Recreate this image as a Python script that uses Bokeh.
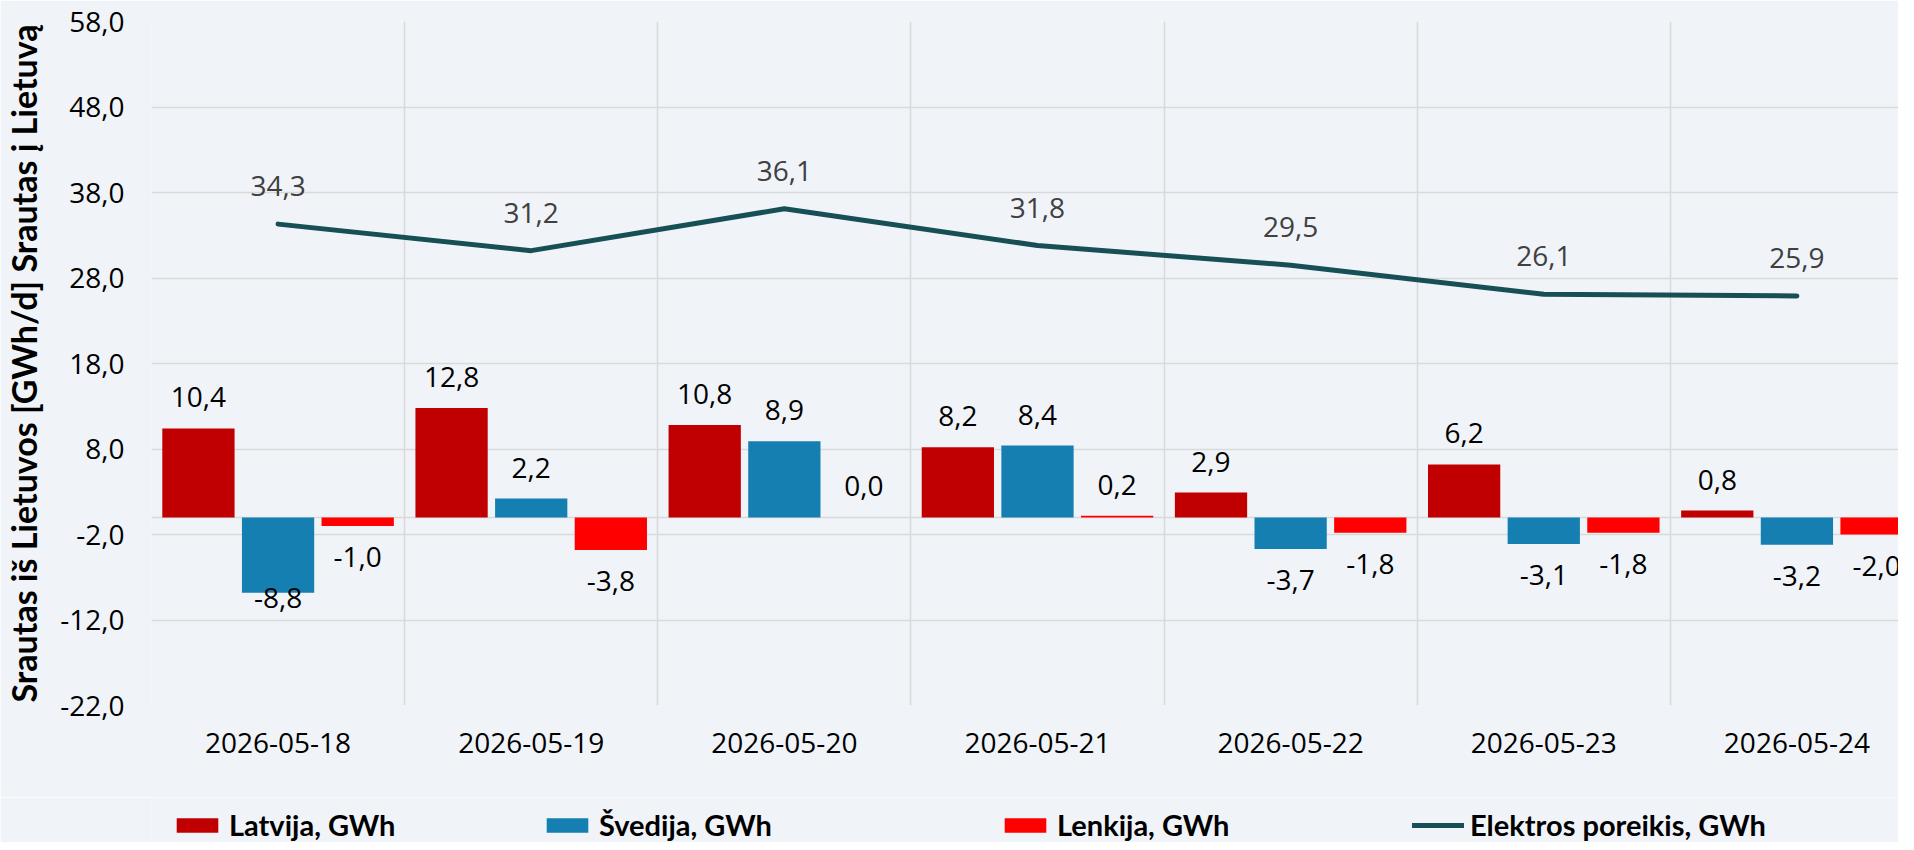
from bokeh.plotting import figure
from bokeh.layouts import column
from bokeh.models import Range1d, FixedTicker, Span, Legend, LegendItem, ColumnDataSource
from bokeh.transform import dodge
from bokeh.embed import file_html
from bokeh.resources import INLINE
from bokeh.core.properties import value

# ---------------- data ----------------
dates = ["2026-05-18", "2026-05-19", "2026-05-20", "2026-05-21",
         "2026-05-22", "2026-05-23", "2026-05-24"]
latvija = [10.4, 12.8, 10.8, 8.2, 2.9, 6.2, 0.8]
svedija = [-8.8, 2.2, 8.9, 8.4, -3.7, -3.1, -3.2]
lenkija = [-1.0, -3.8, 0.0, 0.2, -1.8, -1.8, -2.0]
poreikis = [34.3, 31.2, 36.1, 31.8, 29.5, 26.1, 25.9]
y_ticks = [-22.0, -12.0, -2.0, 8.0, 18.0, 28.0, 38.0, 48.0, 58.0]
series_names = ["Latvija, GWh", "Švedija, GWh", "Lenkija, GWh", "Elektros poreikis, GWh"]
y_title = "Srautas iš Lietuvos [GWh/d] Srautas į Lietuvą"

# ---------------- style ----------------
BG = "#f0f4f8"
GRID = "#d9d9d9"
C_LAT = "#c00000"
C_SVE = "#157fb2"
C_LEN = "#ff0000"
C_LINE = "#174f57"
FONT = "Open Sans"
BOLD_FONT = "Lato"

W = 1898
H_MAIN, H_LEG = 797, 45
B_TOP, B_BOTTOM = 21, 92
CAT_PX = 254.3
FRAME_LEFT = 143
x_end = (W - FRAME_LEFT) / CAT_PX
BAR_W = 0.2855
DODGE = 0.3146
OFF_POS, OFF_NEG, OFF_LINE = -31, 31, -38
# individually placed label (as in the reference): (series index, category index) -> offset
LABEL_TWEAK = {(1, 0): 5}
LEG_X = [20, 390, 848, 1261]   # relative to the (aligned) plot frame
LEG_Y = 0


def fmt(v):
    s = f"{v:.1f}".replace(".", ",")
    return "0,0" if s == "-0,0" else s


xs = [i + 0.5 for i in range(len(dates))]

fig = figure(width=W, height=H_MAIN, output_backend="svg", toolbar_location=None,
             x_range=Range1d(0, x_end), y_range=Range1d(y_ticks[0], y_ticks[-1]),
             min_border_left=FRAME_LEFT, min_border_right=0,
             min_border_top=B_TOP, min_border_bottom=B_BOTTOM,
             background_fill_color=BG, border_fill_color=BG,
             outline_line_color=None)

# grids
fig.xgrid.ticker = FixedTicker(ticks=list(range(len(dates) + 1)))
fig.xgrid.grid_line_color = GRID
fig.xgrid.grid_line_width = 1.5
fig.ygrid.grid_line_color = GRID
fig.ygrid.grid_line_width = 1.5
fig.add_layout(Span(location=0, dimension="width", line_color=GRID,
                    line_width=1.5, level="underlay"))

# axes
fig.yaxis.ticker = FixedTicker(ticks=y_ticks)
fig.yaxis.major_label_overrides = {t: fmt(t) for t in y_ticks}
fig.xaxis.ticker = FixedTicker(ticks=xs)
fig.xaxis.major_label_overrides = {x: d for x, d in zip(xs, dates)}
for ax in (fig.xaxis[0], fig.yaxis[0]):
    ax.axis_line_color = None
    ax.major_tick_line_color = None
    ax.minor_tick_line_color = None
    ax.major_tick_out = 0
    ax.major_tick_in = 0
    ax.minor_tick_out = 0
    ax.minor_tick_in = 0
    ax.major_label_text_font = FONT
    ax.major_label_text_font_size = "28px"
    ax.major_label_text_color = "#000000"
fig.yaxis.major_label_standoff = 27
fig.xaxis.major_label_standoff = 27
fig.yaxis.axis_label = y_title
fig.yaxis.axis_label_text_font = BOLD_FONT
fig.yaxis.axis_label_text_font_style = "bold"
fig.yaxis.axis_label_text_font_size = "34px"
fig.yaxis.axis_label_text_color = "#000000"
fig.yaxis.axis_label_standoff = 13

# bars
src = ColumnDataSource(dict(x=xs, lat=latvija, sve=svedija, len=lenkija, por=poreikis))
fig.vbar(x=dodge("x", -DODGE), top="lat", bottom=0, width=BAR_W,
         fill_color=C_LAT, line_color=None, source=src)
fig.vbar(x=dodge("x", 0.0), top="sve", bottom=0, width=BAR_W,
         fill_color=C_SVE, line_color=None, source=src)
fig.vbar(x=dodge("x", DODGE), top="len", bottom=0, width=BAR_W,
         fill_color=C_LEN, line_color=None, source=src)
fig.line(x="x", y="por", line_width=5, line_color=C_LINE,
         line_cap="round", line_join="round", source=src)

# bar labels
for si, (vals, off) in enumerate(((latvija, -DODGE), (svedija, 0.0), (lenkija, DODGE))):
    yo = [LABEL_TWEAK.get((si, i), OFF_POS if v >= 0 else OFF_NEG)
          for i, v in enumerate(vals)]
    ls = ColumnDataSource(dict(x=[x + off for x in xs], y=vals,
                               t=[fmt(v) for v in vals], yo=yo))
    fig.text(x="x", y="y", text="t", y_offset="yo", source=ls,
             text_align="center", text_baseline="middle",
             text_font=value(FONT), text_font_size="28px", text_color="#000000")

# line labels
ll = ColumnDataSource(dict(x=xs, y=poreikis, t=[fmt(v) for v in poreikis]))
fig.text(x="x", y="y", text="t", y_offset=OFF_LINE, source=ll,
         text_align="center", text_baseline="middle",
         text_font=value(FONT), text_font_size="28px", text_color="#404040")

# ---------------- legend strip ----------------
lf = figure(width=W, height=H_LEG, output_backend="svg", toolbar_location=None,
            x_range=Range1d(0, 1), y_range=Range1d(0, 1),
            x_axis_type=None, y_axis_type=None,
            min_border_left=0, min_border_right=0, min_border_top=0, min_border_bottom=0,
            background_fill_color=BG, border_fill_color=BG, outline_line_color=None)
lf.grid.visible = False
# legend keys: same series, hidden renderers (only their legend keys are shown)
k_lat = lf.vbar(x=xs, top=latvija, width=BAR_W, fill_color=C_LAT, line_color=None, visible=False)
k_sve = lf.vbar(x=xs, top=svedija, width=BAR_W, fill_color=C_SVE, line_color=None, visible=False)
k_len = lf.vbar(x=xs, top=lenkija, width=BAR_W, fill_color=C_LEN, line_color=None, visible=False)
k_line = lf.line(x=xs, y=poreikis, line_width=5, line_color=C_LINE,
                 line_cap="round", visible=False)

for name, r, lx in zip(series_names, (k_lat, k_sve, k_len, k_line), LEG_X):
    lg = Legend(items=[LegendItem(label=name, renderers=[r])],
                location=(lx, LEG_Y), orientation="horizontal",
                glyph_width=52, glyph_height=18, label_standoff=6,
                padding=0, margin=0, spacing=0,
                border_line_color=None, background_fill_alpha=0,
                inactive_fill_alpha=0,
                label_text_font=BOLD_FONT, label_text_font_style="bold",
                label_text_font_size="29px", label_text_color="#000000")
    lf.add_layout(lg)

p = column(fig, lf, spacing=0)
open("out.html", "w").write(file_html(p, INLINE))
